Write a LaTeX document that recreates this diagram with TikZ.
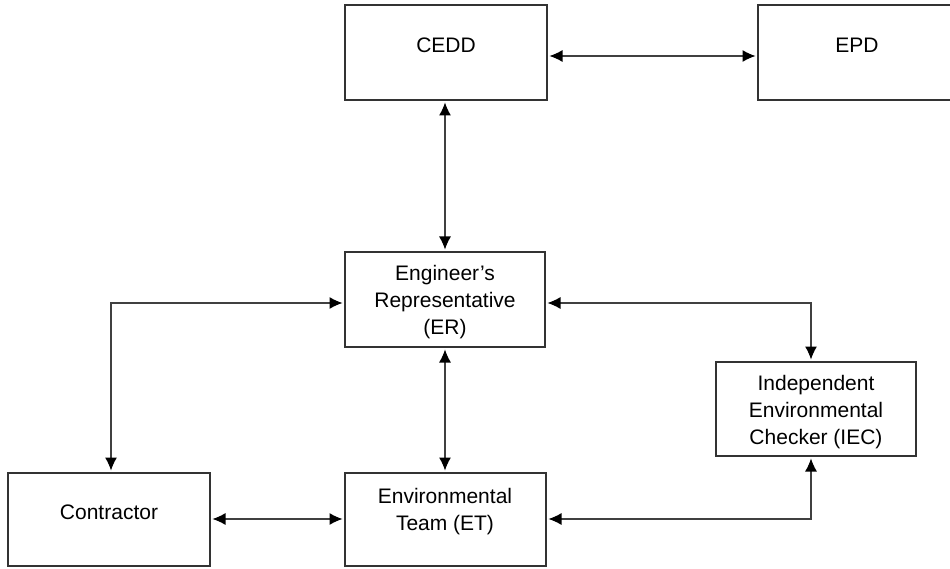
\documentclass[tikz,border=0pt]{standalone}
\usepackage{fontspec}
\setmainfont{Liberation Sans}
\usetikzlibrary{arrows.meta}
\begin{document}
\begin{tikzpicture}[x=1pt,y=-1pt,
  box/.style={draw=black!80,line width=1.3pt,rectangle,inner sep=0pt,outer sep=0pt},
  lbl/.style={inner sep=0pt,align=center,font=\fontsize{21}{27}\selectfont},
  conn/.style={draw=black!75,line width=1.1pt,{Latex[length=13pt,width=12pt,color=black]}-{Latex[length=13pt,width=12pt,color=black]},shorten <=2.5pt,shorten >=2.5pt}]
\useasboundingbox (0,0) rectangle (950,569);
% boxes
\node[box,minimum width=202pt,minimum height=95pt] (cedd) at (446,52.5) {};
\node[box,minimum width=194pt,minimum height=95pt] (epd) at (855,52.5) {};
\node[box,minimum width=200pt,minimum height=95pt] (er) at (445,299.5) {};
\node[box,minimum width=200pt,minimum height=94pt] (iec) at (816,409) {};
\node[box,minimum width=202pt,minimum height=93pt] (con) at (109,519.5) {};
\node[box,minimum width=201pt,minimum height=93pt] (et) at (445.5,519.5) {};
% texts
\node[lbl] (ceddt) at (446,45) {CEDD};
\node[lbl] (epdt) at (857,45.5) {EPD};
\node[lbl] (ert) at (445,302) {Engineer’s\\Representative\\(ER)};
\node[lbl] (iect) at (816,412) {Independent\\Environmental\\Checker (IEC)};
\node[lbl] (cont) at (109,512) {Contractor};
\node[lbl] (ett) at (445,512) {Environmental\\Team (ET)};
% connectors
\draw[conn] (cedd.east |- 0,56) -- (epd.west |- 0,56);
\draw[conn] (cedd.south -| 445,0) -- (er.north -| 445,0);
\draw[conn] (er.south -| 445,0) -- (et.north -| 445,0);
\draw[conn] (con.east |- 0,519) -- (et.west |- 0,519);
\draw[conn] (er.west |- 0,303) -- (111,303) -- (con.north -| 111,0);
\draw[conn] (er.east |- 0,303) -- (811,303) -- (iec.north -| 811,0);
\draw[conn] (et.east |- 0,519) -- (811,519) -- (iec.south -| 811,0);
\end{tikzpicture}
\end{document}
